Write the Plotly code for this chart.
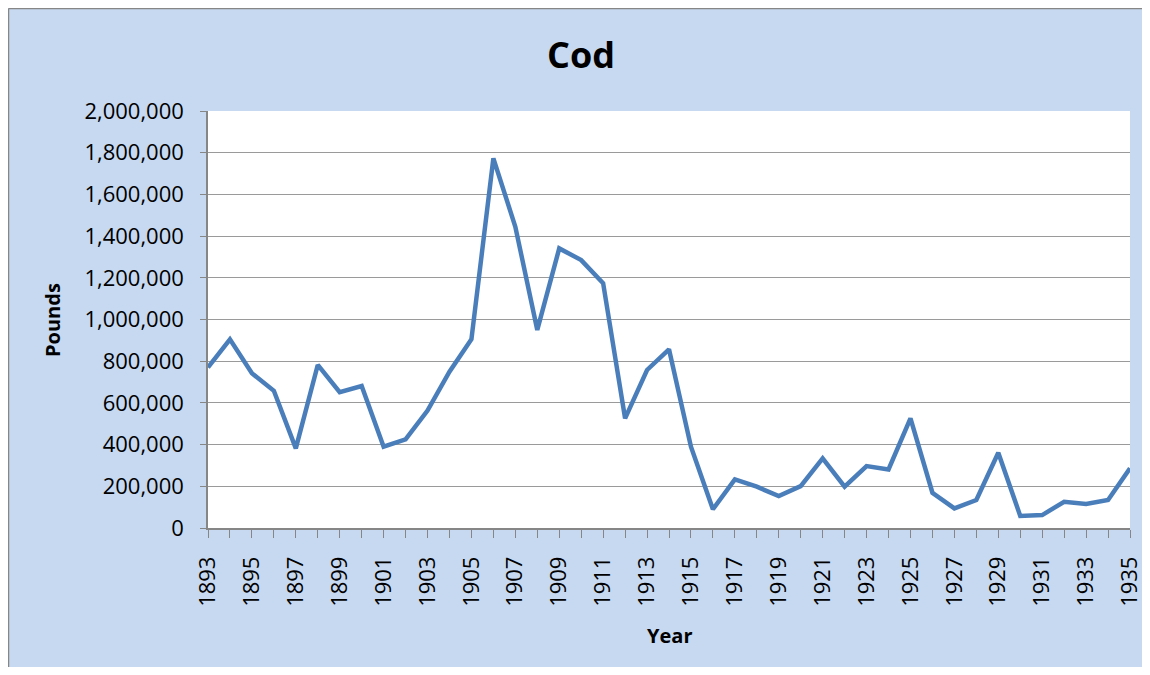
import plotly.graph_objects as go

# Cod landings, pounds per year
years = list(range(1893, 1936))
pounds = [
    770000, 905000, 742000, 658000, 382000, 782000, 651000, 681000, 390000, 425000,
    563000, 750000, 905000, 1773000, 1445000, 950000, 1341000, 1285000, 1174000, 526000,
    758000, 857000, 390000, 90000, 233000, 198000, 153000, 201000, 334000, 198000,
    297000, 281000, 526000, 169000, 94000, 134000, 361000, 58000, 62000, 126000,
    115000, 134000, 286000,
]
x_ticks = years[::2]
y_ticks = list(range(0, 2000001, 200000))

BG_BLUE = "#C6D9F1"
GRID = "#9A9A9A"
AXIS = "#868686"
FONT = "Open Sans"

# the page puts the figure 8px in from the top-left corner
W, H = 1134, 659
L, R, T, B = 200, 12, 103, 139
PX0, PY0 = 8 + L, 8 + T            # screen position of plot area corner
PW, PH = W - L - R, H - T - B


def px(x):
    return (x - PX0) / PW


def py(y):
    return (PY0 + PH - y) / PH


fig = go.Figure()

fig.add_trace(go.Scatter(
    x=years,
    y=pounds,
    mode="lines",
    line=dict(color="#4A7EBB", width=4.5),
    showlegend=False,
))

# grey frame along the left and top edge of the chart area
fig.add_shape(type="line", xref="paper", yref="paper",
              x0=px(8.5), x1=px(8.5), y0=py(800), y1=py(8.5),
              line=dict(color=AXIS, width=1.5))
fig.add_shape(type="line", xref="paper", yref="paper",
              x0=px(8.5), x1=px(1200), y0=py(8.5), y1=py(8.5),
              line=dict(color=AXIS, width=1.5))

fig.add_annotation(text="<b>Cod</b>", xref="paper", yref="paper",
                   x=px(581), y=py(55), xanchor="center", yanchor="middle",
                   showarrow=False, font=dict(family=FONT, size=36, color="black"))
fig.add_annotation(text="<b>Pounds</b>", xref="paper", yref="paper",
                   x=px(52), y=py(320), xanchor="center", yanchor="middle",
                   textangle=-90,
                   showarrow=False, font=dict(family=FONT, size=20, color="black"))
fig.add_annotation(text="<b>Year</b>", xref="paper", yref="paper",
                   x=px(669), y=py(635), xanchor="center", yanchor="middle",
                   showarrow=False, font=dict(family=FONT, size=20, color="black"))

fig.update_layout(
    width=W, height=H,
    margin=dict(l=L, r=R, t=T, b=B, autoexpand=False),
    paper_bgcolor=BG_BLUE,
    plot_bgcolor="white",
    font=dict(family=FONT, size=22, color="black"),
    xaxis=dict(
        range=[1893, 1935],
        tickvals=x_ticks,
        ticktext=[str(y) for y in x_ticks],
        tickangle=-90,
        ticks="outside", ticklen=8, tickcolor=AXIS, tickwidth=1,
        minor=dict(tickvals=years, ticks="outside", ticklen=8,
                   tickcolor=AXIS, tickwidth=1, showgrid=False),
        showgrid=False, zeroline=False,
        showline=True, linecolor=AXIS, linewidth=1.5,
        ticklabelstandoff=10,
        ticklabeloverflow="allow",
        automargin=False,
    ),
    yaxis=dict(
        range=[0, 2000000],
        tickvals=y_ticks,
        tickformat=",d",
        ticks="outside", ticklen=6, tickcolor=AXIS,
        showgrid=True, gridcolor=GRID, gridwidth=1,
        zeroline=False,
        showline=True, linecolor=AXIS, linewidth=1.5,
        ticklabelstandoff=12,
        automargin=False,
    ),
)

fig.write_html("out.html")
